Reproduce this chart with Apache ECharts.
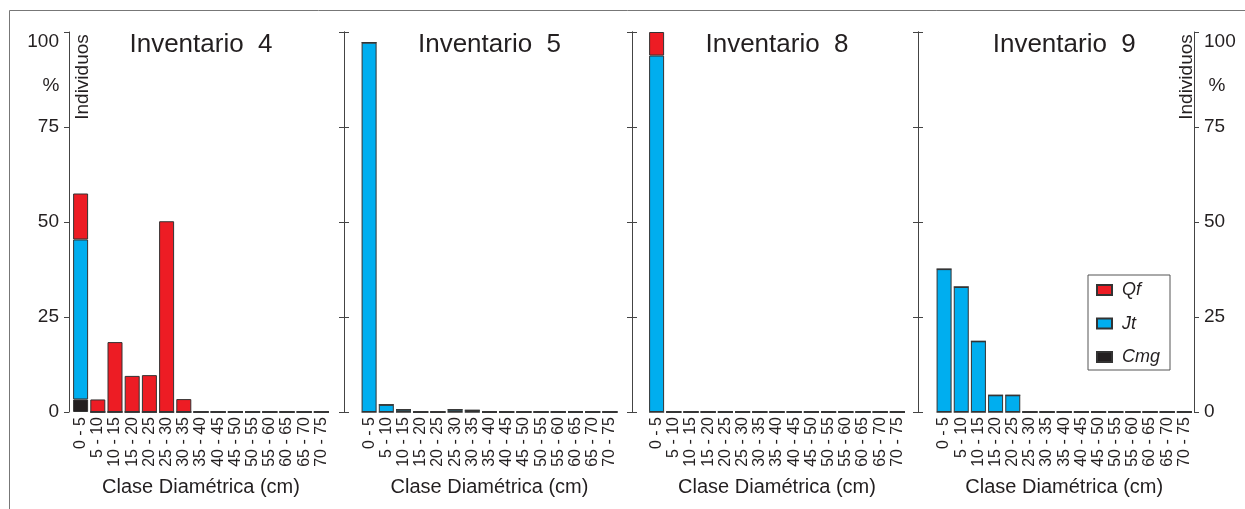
<!DOCTYPE html>
<html>
<head>
<meta charset="utf-8">
<script src="https://cdn.jsdelivr.net/npm/echarts@6/dist/echarts.min.js"></script>
<style>
  html, body { margin: 0; padding: 0; background: #ffffff; }
  #chart { width: 1245px; height: 509px; }
</style>
</head>
<body>
<div id="chart"></div>
<script>
// Diameter classes (cm)
const categories = ['0 - 5', '5 - 10', '10 - 15', '15 - 20', '20 - 25', '25 - 30', '30 - 35',
  '35 - 40', '40 - 45', '45 - 50', '50 - 55', '55 - 60', '60 - 65', '65 - 70', '70 - 75'];

const panelTitles = ['Inventario  4', 'Inventario  5', 'Inventario  8', 'Inventario  9'];
const speciesNames = ['Cmg', 'Jt', 'Qf'];

// % of individuals per class and species
const inv4Cmg = [3.3, 0, 0, 0, 0, 0, 0, 0, 0, 0, 0, 0, 0, 0, 0];
const inv4Jt  = [42.1, 0, 0, 0, 0, 0, 0, 0, 0, 0, 0, 0, 0, 0, 0];
const inv4Qf  = [12.1, 3.3, 18.4, 9.5, 9.7, 50.2, 3.4, 0, 0, 0, 0, 0, 0, 0, 0];

const inv5Cmg = [0, 0, 0, 0, 0, 0, 0, 0, 0, 0, 0, 0, 0, 0, 0];
const inv5Jt  = [97.2, 1.9, 0.6, 0, 0, 0.6, 0.45, 0, 0, 0, 0, 0, 0, 0, 0];
const inv5Qf  = [0, 0, 0, 0, 0, 0, 0, 0, 0, 0, 0, 0, 0, 0, 0];

const inv8Cmg = [0, 0, 0, 0, 0, 0, 0, 0, 0, 0, 0, 0, 0, 0, 0];
const inv8Jt  = [93.8, 0, 0, 0, 0, 0, 0, 0, 0, 0, 0, 0, 0, 0, 0];
const inv8Qf  = [6.2, 0, 0, 0, 0, 0, 0, 0, 0, 0, 0, 0, 0, 0, 0];

const inv9Cmg = [0, 0, 0, 0, 0, 0, 0, 0, 0, 0, 0, 0, 0, 0, 0];
const inv9Jt  = [37.6, 32.9, 18.6, 4.4, 4.4, 0, 0, 0, 0, 0, 0, 0, 0, 0, 0];
const inv9Qf  = [0, 0, 0, 0, 0, 0, 0, 0, 0, 0, 0, 0, 0, 0, 0];

const panelData = [
  { Cmg: inv4Cmg, Jt: inv4Jt, Qf: inv4Qf },
  { Cmg: inv5Cmg, Jt: inv5Jt, Qf: inv5Qf },
  { Cmg: inv8Cmg, Jt: inv8Jt, Qf: inv8Qf },
  { Cmg: inv9Cmg, Jt: inv9Jt, Qf: inv9Qf }
];

// ---- styling / layout ----
const FONT = "'Liberation Sans', Arial, Helvetica, sans-serif";
const INK = '#231f20';
const AXIS = '#444444';
const speciesColors = { Qf: '#ed1c24', Jt: '#00aeef', Cmg: '#231f20' };

const GRID_TOP = 32, GRID_HEIGHT = 380;
const panelLayout = [
  { left: 72,    width: 258,   leftOffset: 3,    rightOffset: 14 },
  { left: 360.5, width: 258,   leftOffset: 16.5, rightOffset: 13.5 },
  { left: 648,   width: 258,   leftOffset: 16,   rightOffset: 12 },
  { left: 935.5, width: 257.5, leftOffset: 17.5, rightOffset: 1 }
];

function yLabel(show) {
  return {
    show: show,
    margin: 10,
    fontSize: 19,
    color: INK,
    fontFamily: FONT,
    // the top label sits just below its tick
    formatter: function (v) { return v === 100 ? '{t|100}' : String(v); },
    rich: { t: { fontSize: 19, color: INK, fontFamily: FONT, padding: [20, 0, 0, 0] } }
  };
}

const grids = [], xAxes = [], yAxes = [], series = [], graphics = [];

panelLayout.forEach(function (p, i) {
  grids.push({ left: p.left, width: p.width, top: GRID_TOP, height: GRID_HEIGHT });

  xAxes.push({
    type: 'category', gridIndex: i, data: categories,
    axisLine: { show: false }, axisTick: { show: false },
    axisLabel: { interval: 0, rotate: 90, margin: 5, fontSize: 16, color: INK, fontFamily: FONT },
    name: 'Clase Diamétrica (cm)', nameLocation: 'middle', nameGap: 65,
    nameTextStyle: { fontSize: 20, color: INK, fontFamily: FONT }
  });

  // a left and a right axis per panel; neighbouring ones share a line
  ['left', 'right'].forEach(function (side) {
    yAxes.push({
      type: 'value', gridIndex: i, position: side,
      offset: side === 'left' ? p.leftOffset : p.rightOffset,
      min: 0, max: 100, interval: 25,
      splitLine: { show: false },
      axisLine: { show: true, lineStyle: { color: AXIS, width: 1 } },
      axisTick: { show: true, length: 5, lineStyle: { color: AXIS, width: 1 } },
      axisLabel: yLabel((side === 'left' && i === 0) || (side === 'right' && i === 3))
    });
  });

  speciesNames.forEach(function (name) {
    series.push({
      name: name, type: 'bar', stack: 'inv' + i,
      xAxisIndex: i, yAxisIndex: 2 * i,
      barWidth: 15,
      itemStyle: { color: speciesColors[name], borderColor: '#333333', borderWidth: 1 },
      emphasis: { disabled: true },
      data: panelData[i][name]
    });
  });

  graphics.push({
    type: 'text', x: p.left + p.width / 2, y: 45,
    style: { text: panelTitles[i], fontSize: 26, fontFamily: FONT, fill: INK, align: 'center', verticalAlign: 'middle' }
  });
});

// axis captions on both outer axes
[{ x: 51, px: 82.5 }, { x: 1217, px: 1187 }].forEach(function (c) {
  graphics.push({
    type: 'text', x: c.x, y: 86,
    style: { text: '%', fontSize: 19, fontFamily: FONT, fill: INK, align: 'center', verticalAlign: 'middle' }
  });
  graphics.push({
    type: 'text', x: c.px, y: 77, rotation: Math.PI / 2,
    style: { text: 'Individuos', fontSize: 19, fontFamily: FONT, fill: INK, align: 'center', verticalAlign: 'middle' }
  });
});

// figure frame (top and left edges)
graphics.push({ type: 'line', shape: { x1: 9.5, y1: 10.5, x2: 1245, y2: 10.5 }, style: { stroke: '#777777', lineWidth: 1 } });
graphics.push({ type: 'line', shape: { x1: 9.5, y1: 10.5, x2: 9.5, y2: 509 }, style: { stroke: '#777777', lineWidth: 1 } });

const chart = echarts.init(document.getElementById('chart'), null, { renderer: 'canvas' });
chart.setOption({
  animation: false,
  backgroundColor: '#ffffff',
  textStyle: { fontFamily: FONT },
  grid: grids,
  xAxis: xAxes,
  yAxis: yAxes,
  legend: {
    data: ['Qf', 'Jt', 'Cmg'],
    orient: 'vertical', left: 1088, top: 275,
    padding: [5, 10, 3, 8], itemGap: 13.5,
    itemWidth: 15, itemHeight: 10, icon: 'rect',
    borderColor: '#555555', borderWidth: 1,
    selectedMode: false,
    textStyle: { fontSize: 18, fontStyle: 'italic', color: INK, fontFamily: FONT, lineHeight: 20, padding: [0, 0, 0, 5] }
  },
  graphic: graphics,
  series: series
});
</script>
</body>
</html>
